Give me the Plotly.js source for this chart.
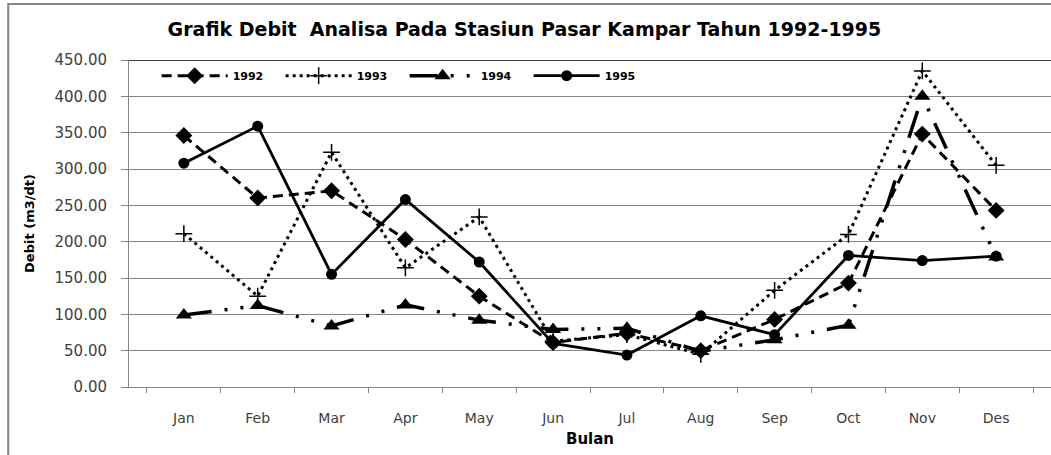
<!DOCTYPE html>
<html>
<head>
<meta charset="utf-8">
<script src="https://cdn.plot.ly/plotly-3.0.1.min.js"></script>
<style>
html,body{margin:0;padding:0;background:#fff;overflow:hidden;}
#chart{width:1051px;height:455px;}
</style>
</head>
<body>
<div id="chart"></div>
<script>
const months = ["Jan","Feb","Mar","Apr","May","Jun","Jul","Aug","Sep","Oct","Nov","Des"];
const d1992 = [346, 260, 270, 203, 125, 61, 74, 50, 93, 143, 348, 243];
const d1993 = [211, 125, 323, 164, 234, 63, 72, 45, 133, 210, 435, 305];
const d1994 = [99, 112, 84, 113, 92, 79, 81, 49, 65, 85, 400, 179];
const d1995 = [308, 359, 155, 258, 172, 60, 44, 98, 72, 181, 174, 180];
const yTicks = [0, 50, 100, 150, 200, 250, 300, 350, 400, 450];

const traces = [
  {x: months, y: d1992, name: "1992", type: "scatter", mode: "lines+markers",
   line: {color: "#000", width: 3, dash: "10px,6px"},
   marker: {symbol: "diamond", size: 13, color: "#000"}},
  {x: months, y: d1993, name: "1993", type: "scatter", mode: "lines+markers",
   line: {color: "#000", width: 3, dash: "3px,4px"},
   marker: {symbol: "cross-thin", size: 12, color: "#000", line: {color: "#000", width: 1.5}}},
  {x: months, y: d1994, name: "1994", type: "scatter", mode: "lines+markers",
   line: {color: "#000", width: 3.5, dash: "28px,13px,3px,13px,3px,13px"},
   marker: {symbol: "triangle-up", size: 14, color: "#000"}},
  {x: months, y: d1995, name: "1995", type: "scatter", mode: "lines+markers",
   line: {color: "#000", width: 2.8},
   marker: {symbol: "circle", size: 11, color: "#000"}}
];

const layout = {
  width: 1051, height: 455,
  margin: {l: 129, r: 0, t: 60, b: 68},
  paper_bgcolor: "#fff", plot_bgcolor: "#fff",
  showlegend: true,
  title: {text: "Grafik Debit  Analisa Pada Stasiun Pasar Kampar Tahun 1992-1995",
          font: {family: "DejaVu Sans", size: 19, color: "#000", weight: "bold"},
          x: 0.499, xanchor: "center", y: 0.935, yanchor: "middle"},
  legend: {orientation: "h", x: 0.03, xanchor: "left", y: 0.952, yanchor: "middle",
           bgcolor: "rgba(0,0,0,0)", font: {family: "DejaVu Sans", size: 11, color: "#000", weight: "bold"},
           entrywidth: 43, entrywidthmode: "pixels", itemwidth: 66},
  xaxis: {type: "category", categoryorder: "array", categoryarray: months,
          showline: true, linecolor: "#868686", linewidth: 1,
          ticks: "outside", tickson: "boundaries", ticklen: 5, tickcolor: "#868686",
          showgrid: false, zeroline: false,
          tickfont: {family: "DejaVu Sans", size: 14, color: "#404040"},
          ticklabelstandoff: 18,
          title: {text: "Bulan", font: {family: "DejaVu Sans", size: 15, color: "#000", weight: "bold"}, standoff: 8}},
  yaxis: {range: [0, 450], tickvals: yTicks, tickformat: ".2f",
          showline: true, linecolor: "#868686", linewidth: 1,
          ticks: "outside", ticklen: 7, tickcolor: "#868686",
          showgrid: true, gridcolor: "#868686", gridwidth: 1, zeroline: false,
          tickfont: {family: "DejaVu Sans", size: 15, color: "#404040"},
          ticklabelstandoff: 11,
          title: {text: "Debit (m3/dt)", font: {family: "DejaVu Sans", size: 13, color: "#000", weight: "bold"}, standoff: 16}},
  shapes: [
    {type: "line", xref: "paper", yref: "y", x0: 0, x1: 1, y0: 450, y1: 450, line: {color: "#000", width: 1.5}},
    {type: "rect", xref: "paper", yref: "paper", x0: -0.131, x1: 1.1, y0: -0.3, y1: 1.171, line: {color: "#868686", width: 2}}
  ]
};

Plotly.newPlot("chart", traces, layout, {displayModeBar: false, staticPlot: true});
</script>
</body>
</html>
